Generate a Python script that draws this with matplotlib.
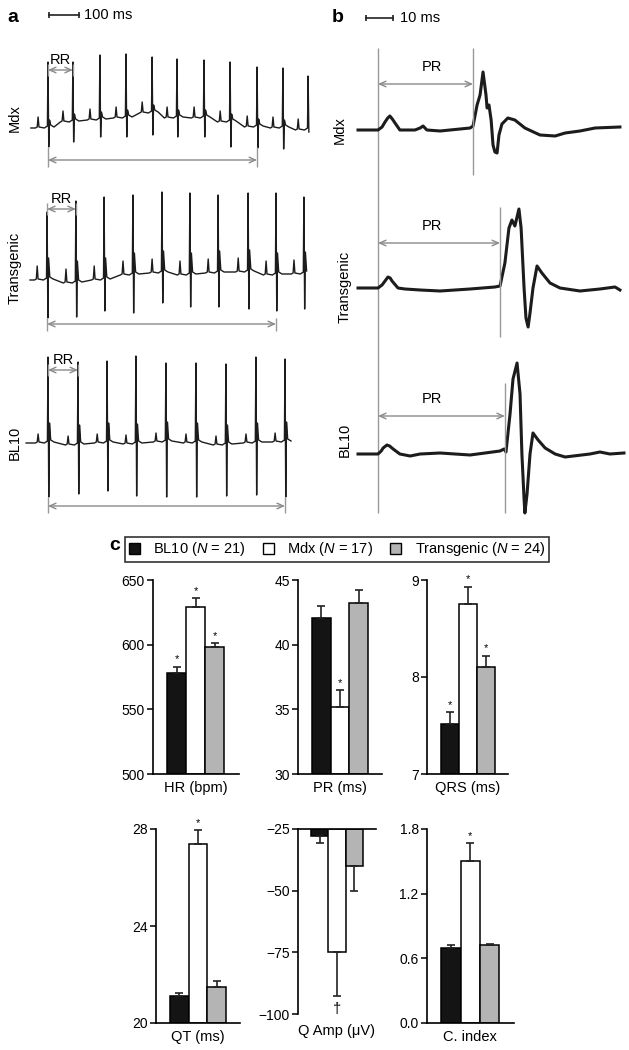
import numpy as np
import matplotlib.pyplot as plt
from matplotlib.patches import Patch

plt.rcParams['font.family'] = ['Liberation Sans', 'DejaVu Sans']
plt.rcParams['mathtext.fontset'] = 'custom'
plt.rcParams['mathtext.it'] = 'Liberation Sans:italic'
plt.rcParams['mathtext.rm'] = 'Liberation Sans'

# ---------------- data ----------------
leads = ['Mdx', 'Transgenic', 'BL10']

# panel a: R-peak times (ms), R / S amplitudes and baseline level per beat
mdx_beats = [60, 143, 233, 320, 407, 490, 580, 667, 757, 843, 927]
mdx_r = [66, 60, 65, 64, 56, 59, 58, 60, 60, 60, 54]
mdx_s = [19, 20, 17, 19, 22, 19, 19, 25, 21, 21, 2]
mdx_base = [-3, 3, 5, 7, 12, 7, 7, 3, -2, -3, -5]

tg_beats = [57, 153, 247, 343, 440, 533, 627, 727, 820, 913]
tg_r = [68, 82, 83, 80, 81, 82, 78, 79, 82, 77]
tg_s = [38, 34, 31, 38, 30, 32, 34, 37, 36, 35]
tg_base = [-2, -5, -2, 3, 5, 3, 5, 6, 3, 4]

bl_beats = [60, 160, 257, 353, 453, 553, 653, 753, 850]
bl_r = [86, 83, 82, 88, 79, 80, 81, 86, 83]
bl_s = [54, 49, 48, 52, 55, 54, 51, 52, 55]
bl_base = [1, -1, 1, 0, 2, 1, -1, 1, 2]

# single beat shape around the R peak (ms offsets)
tmpl_t = [-42, -36, -33, -30, -12, -2, 0, 2.5, 5, 9, 20]

# panel b: single averaged complex (ms, amplitude)
b_mdx_t = [-7.4, 0, 1.5, 2.6, 3.6, 4.4, 5.3, 6.3, 8.1, 13.7, 15.6, 16.7, 18.1, 23.0, 30.4,
           34.1, 35.2, 36.7, 37.8, 38.9, 40.0, 40.4, 41.1, 41.9, 42.6, 43.3, 44.1, 44.8,
           45.9, 48.1, 50.7, 54.4, 60.0, 65.6, 69.3, 74.8, 80.4, 89.6]
b_mdx_v = [0, 0, 3, 8, 12, 14, 11, 7, 0, 0, 2, 4, 0, -1, 1, 2, 4, 25, 35, 58, 35, 22, 25,
           10, -15, -22, -23, -5, 6, 12, 10, 2, -5, -6, -3, -1, 2, 3]
b_tg_t = [-7.4, 0, 1.5, 2.6, 3.7, 4.5, 5.2, 7.4, 10.0, 15.6, 23.0, 34.1, 43.3, 45.2, 47.0,
          48.5, 49.6, 50.7, 52.2, 53.0, 54.1, 54.8, 55.6, 56.3, 57.4, 58.9, 60.7, 63.7,
          67.4, 74.8, 82.2, 87.8, 89.6]
b_tg_v = [0, 0, 3, 7, 11, 10, 7, 0, -1, -2, -3, -1, 1, 2, 25, 60, 68, 62, 79, 60, 0, -30,
          -39, -25, 0, 22, 15, 5, 0, -3, -1, 1, -2]
b_bl_t = [-7.4, 0, 1.2, 1.9, 3.3, 4.3, 5.6, 8.1, 11.9, 15.6, 23.0, 34.1, 45.2, 46.7, 47.4,
          48.9, 50.0, 51.5, 52.6, 53.3, 54.1, 54.4, 55.2, 56.3, 57.4, 59.3, 61.9, 65.6,
          69.3, 78.5, 82.2, 85.9, 91.1]
b_bl_v = [0, 0, 3, 6, 9, 8, 5, 0, -2, 0, 1, -1, 3, 5, 2, 40, 75, 91, 60, 0, -45, -59,
          -40, 0, 21, 14, 6, 0, -3, 0, 2, 0, 1]
pr_example = [35.2, 45.2, 47.0]

# panel c
groups = ['BL10', 'Mdx', 'Transgenic']
group_n = [21, 17, 24]
hr_mean = [578, 629, 598]
hr_err = [5, 7, 3]
pr_mean = [42.1, 35.2, 43.2]
pr_err = [0.9, 1.3, 1.0]
qrs_mean = [7.52, 8.75, 8.10]
qrs_err = [0.12, 0.18, 0.12]
qt_mean = [21.1, 27.4, 21.5]
qt_err = [0.12, 0.55, 0.25]
qamp_mean = [-27.8, -75.0, -40.0]
qamp_err = [2.8, 17.7, 10.2]
ci_mean = [0.70, 1.50, 0.72]
ci_err = [0.02, 0.17, 0.01]

# ---------------- layout helpers ----------------
W, H = 629, 1050


def box(l, t, r, b):
    return [l / W, 1 - b / H, (r - l) / W, (b - t) / H]


def fx(x):
    return x / W


def fy(y):
    return 1 - y / H


fig = plt.figure(figsize=(W / 100, H / 100), dpi=100)
trace_c = '#1c1c1c'
guide_c = '#999999'
arrow_kw = dict(arrowstyle='<->,head_length=0.45,head_width=0.2', color='#8a8a8a',
                lw=1.0, shrinkA=0, shrinkB=0)

# ---------------- panel a ----------------
axa = fig.add_axes(box(20, 0, 320, 520))
axa.set_xlim((20 - 30) / 0.3, (320 - 30) / 0.3)
axa.set_ylim(-520, 0)
axa.axis('off')

offsets_a = [-125, -278, -444]
p_amp = [11, 14, 9]
j_amp = [8, 22, 20]
t_range = [(3, 929.5), (0, 927), (-13, 910)]
lead_data = [(mdx_beats, mdx_r, mdx_s, mdx_base),
             (tg_beats, tg_r, tg_s, tg_base),
             (bl_beats, bl_r, bl_s, bl_base)]
rr_y = [-70, -209, -370]
long_y = [-160, -324, -506]
long_end = [8, 8, 8]

for i, (beats, r, s, base) in enumerate(lead_data):
    t0, t1 = t_range[i]
    tt, vv = [t0], [base[0]]
    for bt, ra, sa, b0 in zip(beats, r, s, base):
        vals = [0, 1, p_amp[i], 1, 0, 2, ra, -sa, j_amp[i], 3, 1]
        for dt, val in zip(tmpl_t, vals):
            if t0 <= bt + dt <= t1:
                tt.append(bt + dt)
                vv.append(b0 + val)
    off = offsets_a[i]
    axa.plot(tt, np.array(vv) + off, color=trace_c, lw=1.0)

    # RR interval
    axa.vlines([beats[0], beats[1]], rr_y[i] - 6, rr_y[i] + 6, color=guide_c, lw=1)
    axa.annotate('', xy=(beats[1], rr_y[i]), xytext=(beats[0], rr_y[i]), arrowprops=arrow_kw)
    axa.text((beats[0] + beats[1]) / 2, rr_y[i] + 3, 'RR', ha='center', va='bottom', fontsize=10.5)

    # long interval
    k = long_end[i]
    axa.vlines([beats[0], beats[k]], off + base[0] - s[0], long_y[i] - 7, color=guide_c, lw=1)
    axa.annotate('', xy=(beats[k], long_y[i]), xytext=(beats[0], long_y[i]), arrowprops=arrow_kw)

# scale bar 100 ms
axa.plot([63, 163], [-15, -15], color='#222222', lw=1.2, marker='|', ms=4, mew=1.2)
axa.text(180, -15, '100 ms', va='center', ha='left', fontsize=10.5)

# ---------------- panel b ----------------
axb = fig.add_axes(box(340, 0, 629, 520))
axb.set_xlim((340 - 378) / 2.7, (629 - 378) / 2.7)
axb.set_ylim(-520, 0)
axb.axis('off')

offsets_b = [-130, -288, -454]
b_traces = [(b_mdx_t, b_mdx_v), (b_tg_t, b_tg_v), (b_bl_t, b_bl_v)]
line_span = [(-48, -175), (-207, -337), (-383, -513)]
pr_y = [-84, -243, -416]

axb.vlines(0, -513, -48, color=guide_c, lw=1)
for i, (t, v) in enumerate(b_traces):
    axb.plot(t, np.array(v) + offsets_b[i], color=trace_c, lw=2.2, solid_joinstyle='round')
    axb.vlines(pr_example[i], line_span[i][1], line_span[i][0], color=guide_c, lw=1)
    axb.annotate('', xy=(pr_example[i], pr_y[i]), xytext=(0, pr_y[i]), arrowprops=arrow_kw)
    axb.text(20, pr_y[i] + 10, 'PR', ha='center', va='bottom', fontsize=10.5)

axb.plot([-4.4, 5.6], [-18, -18], color='#222222', lw=1.2, marker='|', ms=4, mew=1.2)
axb.text(8.1, -18, '10 ms', va='center', ha='left', fontsize=10.5)

# panel & lead labels
for lab, (x, y) in zip('abc', [(13, 18), (338, 18), (115, 545)]):
    fig.text(fx(x), fy(y), lab, fontsize=14, fontweight='bold', ha='center', va='center')
for lab, y in zip(leads, [118, 268, 443]):
    fig.text(fx(15), fy(y), lab, rotation=90, ha='center', va='center', fontsize=10.5)
for lab, (x, y) in zip(leads, [(340, 130), (345, 287), (345, 440)]):
    fig.text(fx(x), fy(y), lab, rotation=90, ha='center', va='center', fontsize=10.5)

# ---------------- panel c ----------------
colors = ['#141414', 'white', '#b4b4b4']
handles = [Patch(facecolor=c, edgecolor='black', lw=1) for c in colors]
labels = [f'{g} ($\\it{{N}}$ = {n})' for g, n in zip(groups, group_n)]
leg = fig.legend(handles, labels, loc='center', bbox_to_anchor=(fx(337), fy(549.5)),
                 ncol=3, frameon=True, fancybox=False, edgecolor='black', fontsize=10.5,
                 handlelength=0.75, handleheight=0.75, handletextpad=0.9,
                 columnspacing=1.2, borderpad=0.25, borderaxespad=0)
leg.get_frame().set_linewidth(1.2)

panels = [
    # left spine, top, bottom, bar width, ylim, ticks, tick labels, mean, err, stars, label
    (153, 580, 774, 19, (500, 650), [500, 550, 600, 650], None, hr_mean, hr_err, [1, 1, 1], 'HR (bpm)'),
    (298, 580, 774, 18.7, (30, 45), [30, 35, 40, 45], None, pr_mean, pr_err, [0, 1, 0], 'PR (ms)'),
    (427, 580, 774, 18, (7, 9), [7, 8, 9], None, qrs_mean, qrs_err, [1, 1, 1], 'QRS (ms)'),
    (156, 829, 1023, 18.7, (20, 28), [20, 24, 28], None, qt_mean, qt_err, [0, 1, 0], 'QT (ms)'),
    (298, 829, 1014, 17.3, (-100, -25), [-100, -75, -50, -25], None, qamp_mean, qamp_err, [0, 0, 0], 'Q Amp (\u03bcV)'),
    (427, 829, 1023, 19.3, (0, 1.8), [0, 0.6, 1.2, 1.8], ['0.0', '0.6', '1.2', '1.8'], ci_mean, ci_err, [0, 1, 0], 'C. index'),
]
x = np.arange(3)
for left, top, bottom, bw, ylim, ticks, tlabels, mean, err, stars, label in panels:
    ax = fig.add_axes(box(left, top, left + 4.5 * bw, bottom))
    ax.set_xlim(-1.25, 3.25)
    ax.set_ylim(*ylim)
    inverted = ylim[1] < 0
    for sp in ['right', 'top', 'bottom']:
        ax.spines[sp].set_visible(False)
    if inverted:
        ax.spines['top'].set_visible(True)
        base = ylim[1]
        ax.bar(x, np.array(mean) - base, bottom=base, width=1.0, color=colors,
               edgecolor='black', lw=1.1)
        ax.errorbar(x, mean, yerr=[err, [0, 0, 0]], fmt='none', ecolor='#222222',
                    elinewidth=1.2, capsize=3, capthick=1.2)
        ax.text(1, mean[1] - err[1] - 2.5, '\u2020', ha='center', va='top', fontsize=10.5)
    else:
        ax.spines['bottom'].set_visible(True)
        ax.bar(x, np.array(mean) - ylim[0], bottom=ylim[0], width=1.0, color=colors,
               edgecolor='black', lw=1.1)
        ax.errorbar(x, mean, yerr=[[0, 0, 0], err], fmt='none', ecolor='#222222',
                    elinewidth=1.2, capsize=3, capthick=1.2, clip_on=False)
        span = ylim[1] - ylim[0]
        for xi, m, e, st in zip(x, mean, err, stars):
            if st:
                ax.text(xi, m + e + span * 0.012, '*', ha='center', va='bottom', fontsize=8,
                        clip_on=False)
    for sp in ax.spines.values():
        sp.set_linewidth(1.2)
    ax.set_yticks(ticks)
    if tlabels is not None:
        ax.set_yticklabels(tlabels)
    else:
        ax.set_yticklabels([f'{t:g}'.replace('-', '\u2212') for t in ticks])
    ax.set_xticks([])
    ax.tick_params(axis='y', length=4, width=1.1, labelsize=10, pad=2)
    ax.set_xlabel(label, fontsize=10.5, labelpad=5 if not inverted else 7)
    ax.patch.set_alpha(0)

fig.savefig('out.png', dpi=100)
